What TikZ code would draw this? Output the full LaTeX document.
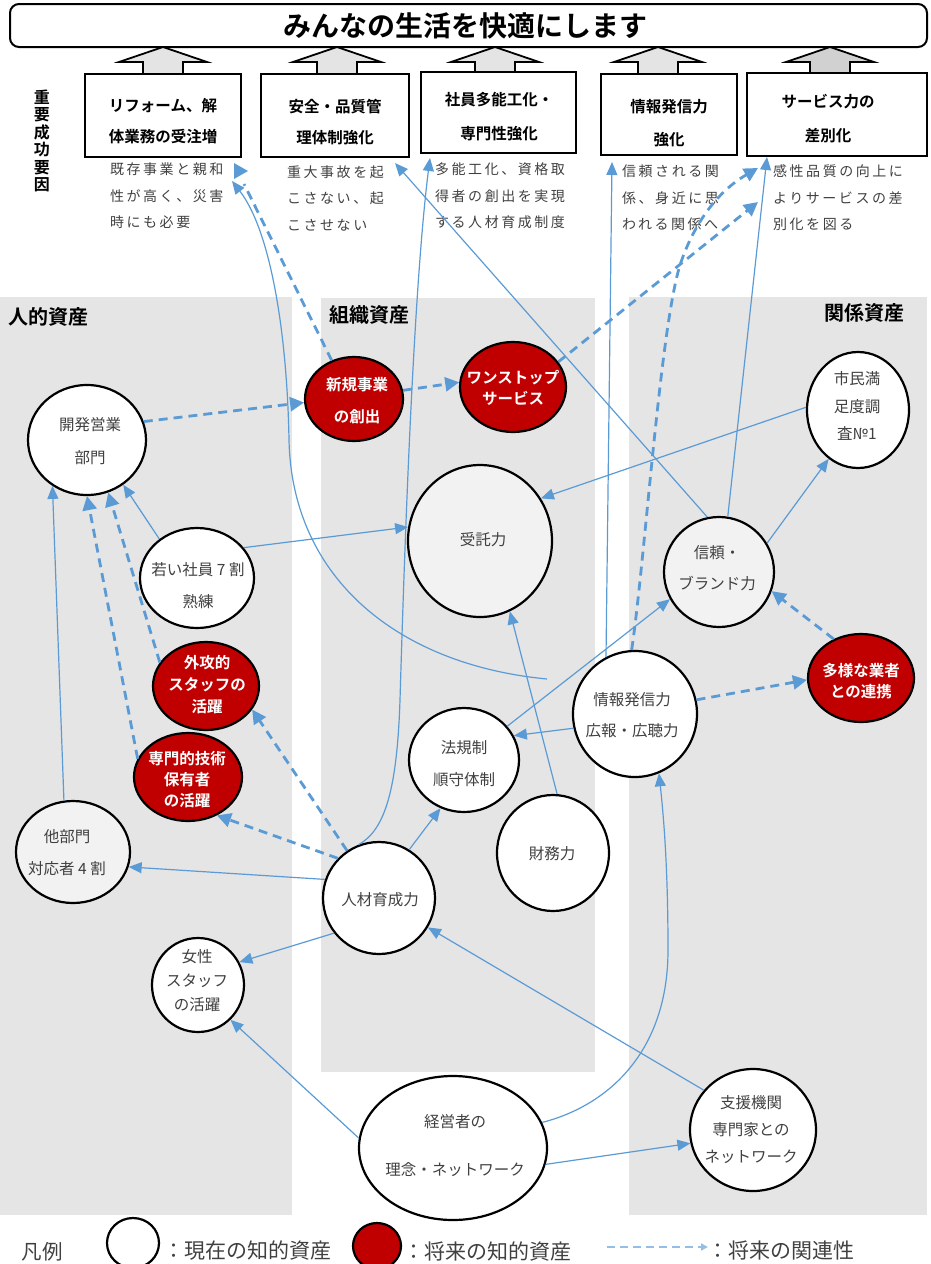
\documentclass[tikz,border=0pt]{standalone}
\usepackage{fontspec}
\setmainfont{Noto Sans CJK JP}[BoldFont={Noto Sans CJK JP Bold}]
\newfontfamily\descfont{Noto Sans CJK JP}[LetterSpace=18]
\usetikzlibrary{shapes.geometric,arrows.meta}
\definecolor{lblue}{HTML}{5B9BD5}
\definecolor{dred}{HTML}{C00000}
\definecolor{pgray}{HTML}{E5E5E5}
\definecolor{ngray}{HTML}{F2F2F2}
\definecolor{tgray}{HTML}{404040}
\definecolor{agray}{HTML}{E4E4E4}
\newcommand{\myfs}[2]{\fontsize{#1}{#2}\selectfont}
\tikzset{
 panel/.style={fill=pgray, draw=none},
 asset/.style={ellipse, draw=black, line width=2.2pt, fill=white, inner sep=0},
 fut/.style={asset, fill=dred},
 lbl/.style={text=tgray, align=center, inner sep=0},
 flbl/.style={text=white, align=center, inner sep=0},
 goalbox/.style={rectangle, draw=black, line width=2.2pt, fill=white, inner sep=0},
 goaltext/.style={align=center, inner sep=0, font=\bfseries\myfs{15.5}{31}},
 desc/.style={anchor=west, align=left, inner sep=0, text=tgray, font=\descfont\myfs{14}{26.5}},
 conn/.style={draw=lblue, line width=1.2pt, -{Triangle[length=13pt,width=11pt]}},
 dconn/.style={draw=lblue, line width=2.8pt, dash pattern=on 9pt off 6pt, -{Triangle[length=14pt,width=14pt]}},
 uparrow/.style={fill=agray, draw=black, line width=1.8pt, line join=miter},
 ptitle/.style={font=\bfseries\myfs{20}{24}, inner sep=0, text=black},
 legtext/.style={anchor=west, text=tgray, font=\myfs{21}{24}, inner sep=0},
}
\begin{document}
\begin{tikzpicture}[x=1pt,y=-1pt]
\useasboundingbox (0,0) rectangle (930,1264);
\clip (0,0) rectangle (930,1264);

% panels
\fill[panel] (0,297) rectangle (292,1215);
\fill[panel] (321,298) rectangle (595,1072);
\fill[panel] (629,297) rectangle (927,1215);
\node[ptitle, anchor=west] (pt1) at (8,317) {人的資産};
\node[ptitle, anchor=west] (pt2) at (329,315) {組織資産};
\node[ptitle, anchor=east] (pt3) at (905,313) {関係資産};

% banner
\node[draw=black, line width=2pt, rounded corners=9pt, minimum width=917pt, minimum height=43pt, inner sep=0] (banner) at (468.5,25.5) {};
\node[font=\bfseries\myfs{28}{30}, inner sep=0] (title) at (465,26) {みんなの生活を快適にします};

% up arrows
\foreach \cx/\cl in {163/agray,337/agray,495/agray,658/agray,830/black!18}
  \draw[uparrow, fill=\cl] (\cx-20,74) -- (\cx-20,62) -- (\cx-44,62) -- (\cx,47) -- (\cx+44,62) -- (\cx+20,62) -- (\cx+20,74) -- cycle;

% goal boxes
\node[goalbox, minimum width=156pt, minimum height=83pt] (g1) at (163,115.5) {};
\node[goalbox, minimum width=148pt, minimum height=83pt] (g2) at (335,115.5) {};
\node[goalbox, minimum width=155pt, minimum height=81pt] (g3) at (498.5,112.5) {};
\node[goalbox, minimum width=136pt, minimum height=81pt] (g4) at (669,114.5) {};
\node[goalbox, minimum width=180pt, minimum height=83pt] (g5) at (837,114.5) {};
\node[goaltext] (g1t) at (163,121.5) {リフォーム、解\\体業務の受注増};
\node[goaltext] (g2t) at (335,122) {安全・品質管\\理体制強化};
\node[goaltext, font=\bfseries\myfs{15.5}{34}] (g3t) at (499,117) {社員多能工化・\\専門性強化};
\node[goaltext, font=\bfseries\myfs{15.5}{33}] (g4t) at (669,123) {情報発信力\\強化};
\node[goaltext, font=\bfseries\myfs{15.5}{34}] (g5t) at (828,119) {サービス力の\\差別化};

\node[font=\bfseries\myfs{16}{17.5}, align=center, inner sep=0] (ksf) at (42,141) {重\\要\\成\\功\\要\\因};

% descriptions
\node[desc] (d1) at (110,196) {既存事業と親和\\性が高く、災害\\時にも必要};
\node[desc] (d2) at (287,198) {重大事故を起\\こさない、起\\こさせない};
\node[desc] (d3) at (435,196) {多能工化、資格取\\得者の創出を実現\\する人材育成制度};
\node[desc] (d4) at (622,198) {信頼される関\\係、身近に思\\われる関係へ};
\node[desc] (d5) at (773,198) {感性品質の向上に\\よりサービスの差\\別化を図る};

% asset ellipses
\node[asset, minimum width=118pt, minimum height=110pt] (kaihatsu) at (87,440) {};
\node[fut, minimum width=98pt, minimum height=84pt] (shinki) at (354,399) {};
\node[fut, minimum width=106pt, minimum height=90pt] (onestop) at (513,387) {};
\node[asset, minimum width=102pt, minimum height=116pt] (shimin) at (858,410) {};
\node[asset, fill=ngray, minimum width=144pt, minimum height=152pt] (jutaku) at (480,541) {};
\node[asset, minimum width=114pt, minimum height=100pt] (wakai) at (197,578) {};
\node[asset, fill=ngray, minimum width=110pt, minimum height=110pt] (shinrai) at (719,572) {};
\node[fut, minimum width=106pt, minimum height=88pt] (gaiko) at (206,686) {};
\node[fut, minimum width=108pt, minimum height=88pt] (senmon) at (188,777) {};
\node[asset, fill=ngray, minimum width=114pt, minimum height=102pt] (tabumon) at (73,852) {};
\node[asset, minimum width=112pt, minimum height=112pt] (jinzai) at (379,898) {};
\node[asset, minimum width=92pt, minimum height=94pt] (josei) at (198,985) {};
\node[asset, minimum width=110pt, minimum height=104pt] (hoki) at (464,760) {};
\node[asset, minimum width=124pt, minimum height=126pt] (joho) at (635,714) {};
\node[asset, minimum width=112pt, minimum height=116pt] (zaimu) at (553,853) {};
\node[fut, minimum width=106pt, minimum height=88pt] (tayo) at (861,678) {};
\node[asset, minimum width=188pt, minimum height=144pt] (keiei) at (453,1148) {};
\node[asset, minimum width=126pt, minimum height=122pt] (shien) at (753,1130) {};

% labels
\node[lbl, font=\myfs{15.5}{33}] (kaihatsu-t) at (90,441) {開発営業\\部門};
\node[flbl, font=\bfseries\myfs{15.5}{32}] (shinki-t) at (357,401) {新規事業\\の創出};
\node[flbl, font=\bfseries\myfs{15.5}{21}] (onestop-t) at (513,388) {ワンストップ\\サービス};
\node[lbl, font=\myfs{15.5}{27.5}] (shimin-t) at (857,406) {市民満\\足度調\\査№1};
\node[lbl, font=\myfs{15.5}{20}] (jutaku-t) at (483,540) {受託力};
\node[lbl, font=\myfs{15.5}{32}] (wakai-t) at (198,586) {若い社員 7 割\\熟練};
\node[lbl, font=\myfs{15.5}{31}] (shinrai-t) at (717,568) {信頼・\\ブランド力};
\node[flbl, font=\bfseries\myfs{15.5}{22}] (gaiko-t) at (207,685) {外攻的\\スタッフの\\活躍};
\node[flbl, font=\bfseries\myfs{15.5}{21}] (senmon-t) at (187,780) {専門的技術\\保有者\\の活躍};
\node[lbl, font=\myfs{15.5}{32}] (tabumon-t) at (67,853) {他部門\\対応者 4 割};
\node[lbl, font=\myfs{15.5}{20}] (jinzai-t) at (380,900) {人材育成力};
\node[lbl, font=\myfs{15.5}{24}] (josei-t) at (197,981) {女性\\スタッフ\\の活躍};
\node[lbl, font=\myfs{15.5}{32}] (hoki-t) at (464,764) {法規制\\順守体制};
\node[lbl, font=\myfs{15.5}{31}] (joho-t) at (632,715) {情報発信力\\広報・広聴力};
\node[lbl, font=\myfs{15.5}{20}] (zaimu-t) at (552,854) {財務力};
\node[flbl, font=\bfseries\myfs{15.5}{21}] (tayo-t) at (861,681) {多様な業者\\との連携};
\node[lbl, font=\myfs{15.5}{48}] (keiei-t) at (455,1146) {経営者の\\理念・ネットワーク};
\node[lbl, font=\myfs{15.5}{27}] (shien-t) at (751,1130) {支援機関\\専門家との\\ネットワーク};

% free connector ends
\coordinate (c-d1a) at (232,181);
\coordinate (c-d1b) at (244,184);
\coordinate (c-d2) at (395,163);
\coordinate (c-d3) at (430,158);
\coordinate (c-d4) at (612,162);
\coordinate (c-d5a) at (767,157);
\coordinate (c-d5b) at (758,168);
\coordinate (c-d5c) at (758,202);
\coordinate (c-free) at (547,679);

% solid connectors
\draw[conn] (wakai.134) -- (kaihatsu.-51);
\draw[conn] (wakai.33) -- (jutaku.169);
\draw[conn] (tabumon.100) -- (kaihatsu.233);
\draw[conn] (jinzai.161) -- (tabumon.-15);
\draw[conn] (jinzai.218) -- (josei.29);
\draw[conn] (jinzai.58) -- (hoki.244);
\draw[conn] (jinzai.111) .. controls (385,830) and (397,790) .. (400,700) .. controls (403,600) and (412,300) .. (c-d3);
\draw[conn] (keiei.174) -- (josei.-47);
\draw[conn] (keiei.-10) -- (shien.192);
\draw[conn] (keiei.16) .. controls (610,1105) and (668,1050) .. (668,950) .. controls (668,870) and (664,820) .. (joho.-68);
\draw[conn] (shien.141) -- (jinzai.-31);
\draw[conn] (joho.193) -- (hoki.26);
\draw[conn] (zaimu.86) -- (jutaku.-67);
\draw[conn] (hoki.38) -- (shinrai.209);
\draw[conn] (shinrai.31) -- (shimin.239);
\draw[conn] (shimin.177) -- (jutaku.35);
\draw[conn] (shinrai.102) -- (c-d2);
\draw[conn] (shinrai.81) -- (c-d5a);
\draw[conn] (joho.117) -- (c-d4);
\draw[conn] (c-free) .. controls (400,665) and (292,580) .. (289,440) .. controls (287,330) and (270,230) .. (c-d1a);

% dashed connectors
\draw[dconn] (kaihatsu.18) -- (shinki.184);
\draw[dconn] (shinki.10) -- (onestop.175);
\draw[dconn] (onestop.29) -- (c-d5c);
\draw[dconn] (joho.93) .. controls (645,560) and (660,330) .. (680,265) .. controls (695,220) and (720,190) .. (c-d5b);
\draw[dconn] (tayo.125) -- (shinrai.-20);
\draw[dconn] (joho.13) -- (tayo.182);
\draw[dconn] (gaiko.153) -- (kaihatsu.-68);
\draw[dconn] (senmon.160) -- (kaihatsu.-90);
\draw[dconn] (jinzai.124) -- (gaiko.-27);
\draw[dconn] (jinzai.136) -- (senmon.-53);
\draw[dconn, -] (shinki.120) -- (c-d1b);
\fill[lblue] (234,163) -- (248,171) -- (234,179) -- cycle;

% legend
\node[text=tgray, font=\myfs{20.5}{24}, inner sep=0] (leg) at (42,1252) {凡例};
\node[asset, minimum width=52pt, minimum height=50pt] (legw) at (133,1243) {};
\node[legtext] (legwt) at (163,1251) {：現在の知的資産};
\node[fut, minimum width=48pt, minimum height=46pt] (legr) at (377,1246) {};
\node[legtext] (legrt) at (403,1251) {：将来の知的資産};
\coordinate (lega) at (607,1247);
\coordinate (legb) at (708,1247);
\draw[draw=lblue!65, line width=2pt, dash pattern=on 8pt off 5pt, -{Triangle[length=7pt,width=7pt]}] (lega) -- (legb);
\node[legtext] (legdt) at (707,1251) {：将来の関連性};
\end{tikzpicture}
\end{document}
